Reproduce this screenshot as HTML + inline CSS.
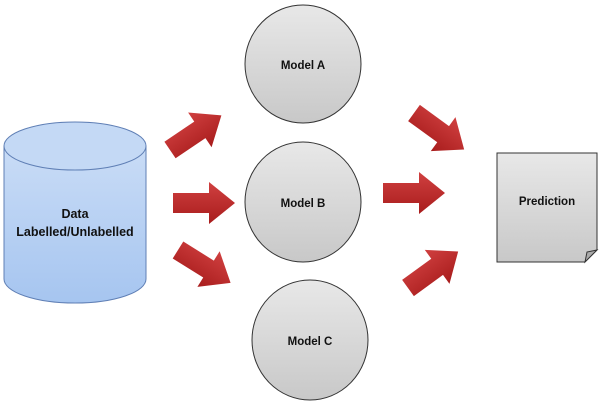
<!DOCTYPE html>
<html><head><style>body{margin:0;background:#fff}svg{display:block}</style></head><body>
<svg width="600" height="407" viewBox="0 0 600 407" xmlns="http://www.w3.org/2000/svg" font-family="Liberation Sans, sans-serif" font-weight="bold">
<defs>
<linearGradient id="cyl" x1="0" y1="0" x2="0" y2="1"><stop offset="0" stop-color="#c9dcf6"/><stop offset="1" stop-color="#a6c5f0"/></linearGradient>
<linearGradient id="g" x1="0" y1="0" x2="0" y2="1"><stop offset="0" stop-color="#e8e8e8"/><stop offset="1" stop-color="#c8c8c8"/></linearGradient>
<linearGradient id="r" x1="0" y1="0" x2="0" y2="1"><stop offset="0" stop-color="#d04040"/><stop offset="1" stop-color="#a81c1c"/></linearGradient>
<polygon id="ar" points="0,-10 36,-10 36,-21 62,0 36,21 36,10 0,10" fill="url(#r)"/>
</defs>
<path d="M4,146 L4,279 A71,24 0 0 0 146,279 L146,146 Z" fill="url(#cyl)" stroke="#5f7fb5" stroke-width="1"/>
<ellipse cx="75" cy="146" rx="71" ry="24" fill="#c4d9f5" stroke="#5f7fb5" stroke-width="1"/>
<text x="75" y="218" font-size="12.5" text-anchor="middle" fill="#111">Data</text>
<text x="75" y="236" font-size="12.5" text-anchor="middle" fill="#111">Labelled/Unlabelled</text>
<ellipse cx="303" cy="64" rx="58" ry="59" fill="url(#g)" stroke="#333"/>
<ellipse cx="303" cy="202" rx="58" ry="60" fill="url(#g)" stroke="#333"/>
<ellipse cx="310" cy="340" rx="58" ry="60" fill="url(#g)" stroke="#333"/>
<text x="303" y="69" font-size="11.5" text-anchor="middle" fill="#111">Model A</text>
<text x="303" y="207" font-size="11.5" text-anchor="middle" fill="#111">Model B</text>
<text x="310" y="345" font-size="11.5" text-anchor="middle" fill="#111">Model C</text>
<path d="M497,153 L597,153 L597,250 L585,262 L497,262 Z" fill="url(#g)" stroke="#333"/>
<path d="M585,262 L587,252 L597,250 Z" fill="#aaa" stroke="#333"/>
<text x="547" y="205" font-size="11.5" text-anchor="middle" fill="#111">Prediction</text>
<use href="#ar" transform="translate(170,150) rotate(-34)"/>
<use href="#ar" transform="translate(173,203)"/>
<use href="#ar" transform="translate(178,250) rotate(32)"/>
<use href="#ar" transform="translate(414,113) rotate(36)"/>
<use href="#ar" transform="translate(383,193)"/>
<use href="#ar" transform="translate(408,288) rotate(-36)"/>
</svg>
</body></html>
